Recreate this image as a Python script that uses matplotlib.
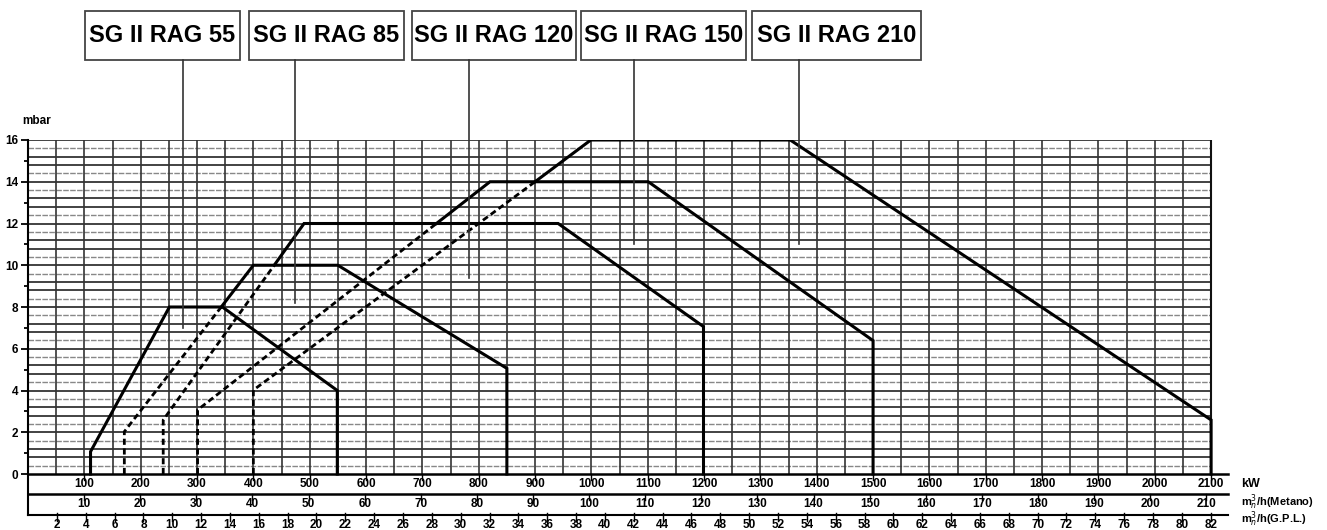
import matplotlib.pyplot as plt
from matplotlib.patches import Rectangle

# burner models shown in the header boxes
models = ["SG II RAG 55", "SG II RAG 85", "SG II RAG 120", "SG II RAG 150", "SG II RAG 210"]

# working fields: ignition part (dashed) and full field (solid), kW vs mbar
rag55_kw = [111, 111, 251, 345, 549, 549]
rag55_mbar = [0, 1.07, 8, 8, 4, 0]

rag85_start_kw = [171, 171, 343]
rag85_start_mbar = [0, 2.03, 8]
rag85_kw = [343, 400, 550, 850, 850]
rag85_mbar = [8, 10, 10, 5.06, 0]

rag120_start_kw = [240, 240, 437]
rag120_start_mbar = [0, 2.59, 10]
rag120_kw = [437, 490, 941, 1199, 1199]
rag120_mbar = [10, 12, 12, 7.06, 0]

rag150_start_kw = [301, 301, 725]
rag150_start_mbar = [0, 3.07, 12]
rag150_kw = [725, 820, 1101, 1500, 1500]
rag150_mbar = [12, 14, 14, 6.39, 0]

rag210_start_kw = [400, 400, 900]
rag210_start_mbar = [0, 4.02, 14]
rag210_kw = [900, 999, 1353, 2100, 2100]
rag210_mbar = [14, 16, 16, 2.59, 0]

# where each leader line from the box ends (kW, mbar)
leader_kw = [275, 474, 783, 1075, 1368]
leader_mbar = [7.0, 8.2, 9.4, 11.0, 11.0]

# secondary scales below the axis
kw_ticks = list(range(100, 2101, 100))
metan_ticks = list(range(10, 211, 10))
gpl_ticks = list(range(2, 83, 2))
METAN_KW = 9.96   # kW per m3/h of natural gas
GPL_KW = 25.6     # kW per m3/h of LPG

# box extents in kW (layout only)
box_left = [101, 392, 681, 981, 1285]
box_right = [376, 667, 973, 1274, 1585]
BOX_BOTTOM, BOX_TOP = 19.83, 22.19

fig = plt.figure(figsize=(13.27, 5.30), dpi=100)
ax = fig.add_axes([28 / 1327, 15 / 530, 1200 / 1327, 375 / 530])
ax.set_xlim(0, 2130)
ax.set_ylim(-1.964, 16)

# grid
for k in range(1, 41):
    y = 0.4 * k
    if k % 5 in (1, 4):
        ax.plot([0, 2100], [y, y], color="#888888", lw=1.0, ls=(0, (4, 1)), zorder=1)
    else:
        ax.plot([0, 2100], [y, y], color="#222222", lw=1.2, zorder=1)
for x in range(50, 2100, 50):
    ax.plot([x, x], [0, 16], color="#333333", lw=1.2, zorder=1)
ax.plot([2100, 2100], [0, 16], color="#111111", lw=1.5, zorder=1)

# axis rows
for y in (0, -0.958):
    ax.plot([0, 2130], [y, y], color="black", lw=1.8, zorder=3, clip_on=False)

# curves
solid = [(rag55_kw, rag55_mbar), (rag85_kw, rag85_mbar), (rag120_kw, rag120_mbar),
         (rag150_kw, rag150_mbar), (rag210_kw, rag210_mbar)]
dashed = [(rag85_start_kw, rag85_start_mbar), (rag120_start_kw, rag120_start_mbar),
          (rag150_start_kw, rag150_start_mbar), (rag210_start_kw, rag210_start_mbar)]
for xs, ys in solid:
    ax.plot(xs, ys, color="black", lw=2.2, zorder=4, solid_joinstyle="miter")
for xs, ys in dashed:
    ax.plot(xs, ys, color="black", lw=2.0, ls=(0, (2.2, 1.3)), zorder=4)

# header boxes and leaders
for name, x0, x1, lx, ly in zip(models, box_left, box_right, leader_kw, leader_mbar):
    ax.add_patch(Rectangle((x0, BOX_BOTTOM), x1 - x0, BOX_TOP - BOX_BOTTOM, fill=False,
                           edgecolor="#444444", lw=1.3, clip_on=False))
    ax.text((x0 + x1) / 2, (BOX_BOTTOM + BOX_TOP) / 2, name, ha="center", va="center",
            fontsize=17, fontweight="bold", family="Liberation Sans")
    ax.plot([lx, lx], [BOX_BOTTOM, ly], color="#333333", lw=1.2, clip_on=False, zorder=5)

# bottom scales
num = dict(fontsize=8.5, fontweight="bold", family="Liberation Sans", ha="center", va="center")
for v in kw_ticks:
    ax.plot([v, v], [0, -0.3], color="black", lw=1.0, clip_on=False)
    ax.text(v, -0.5, str(v), **num)
for v in metan_ticks:
    ax.plot([v * METAN_KW] * 2, [-0.958, -1.25], color="black", lw=1.0, clip_on=False)
    ax.text(v * METAN_KW, -1.42, str(v), **num)
for v in gpl_ticks:
    ax.plot([v * GPL_KW] * 2, [-1.85, -2.25], color="black", lw=1.0, clip_on=False)
    ax.text(v * GPL_KW, -2.42, str(v), **num)

# y axis
for s in ("top", "right"):
    ax.spines[s].set_visible(False)
ax.spines["left"].set_linewidth(1.5)
ax.spines["bottom"].set_linewidth(1.5)
ax.set_xticks([])
ax.set_yticks(range(0, 17, 2))
ax.set_yticks(range(1, 16, 2), minor=True)
ax.set_yticklabels([str(v) for v in range(0, 17, 2)], fontsize=8.5, fontweight="bold",
                   family="Liberation Sans")
ax.tick_params(axis="y", which="major", length=5, width=1.3, pad=2)
ax.tick_params(axis="y", which="minor", length=3, width=1.3)

fig.text(22 / 1327, 1 - 121 / 530, "mbar", fontsize=8.5, fontweight="bold",
         family="Liberation Sans", ha="left", va="center")
side = dict(fontsize=8, fontweight="bold", family="Liberation Sans", ha="left", va="center")
fig.text(1241 / 1327, 1 - 484 / 530, "kW", fontsize=9, fontweight="bold",
         family="Liberation Sans", ha="left", va="center")
fig.text(1241 / 1327, 1 - 502 / 530, r"m$_n^3$/h(Metano)", **side)
fig.text(1241 / 1327, 1 - 519 / 530, r"m$_n^3$/h(G.P.L.)", **side)

fig.savefig("out.png", dpi=100)
